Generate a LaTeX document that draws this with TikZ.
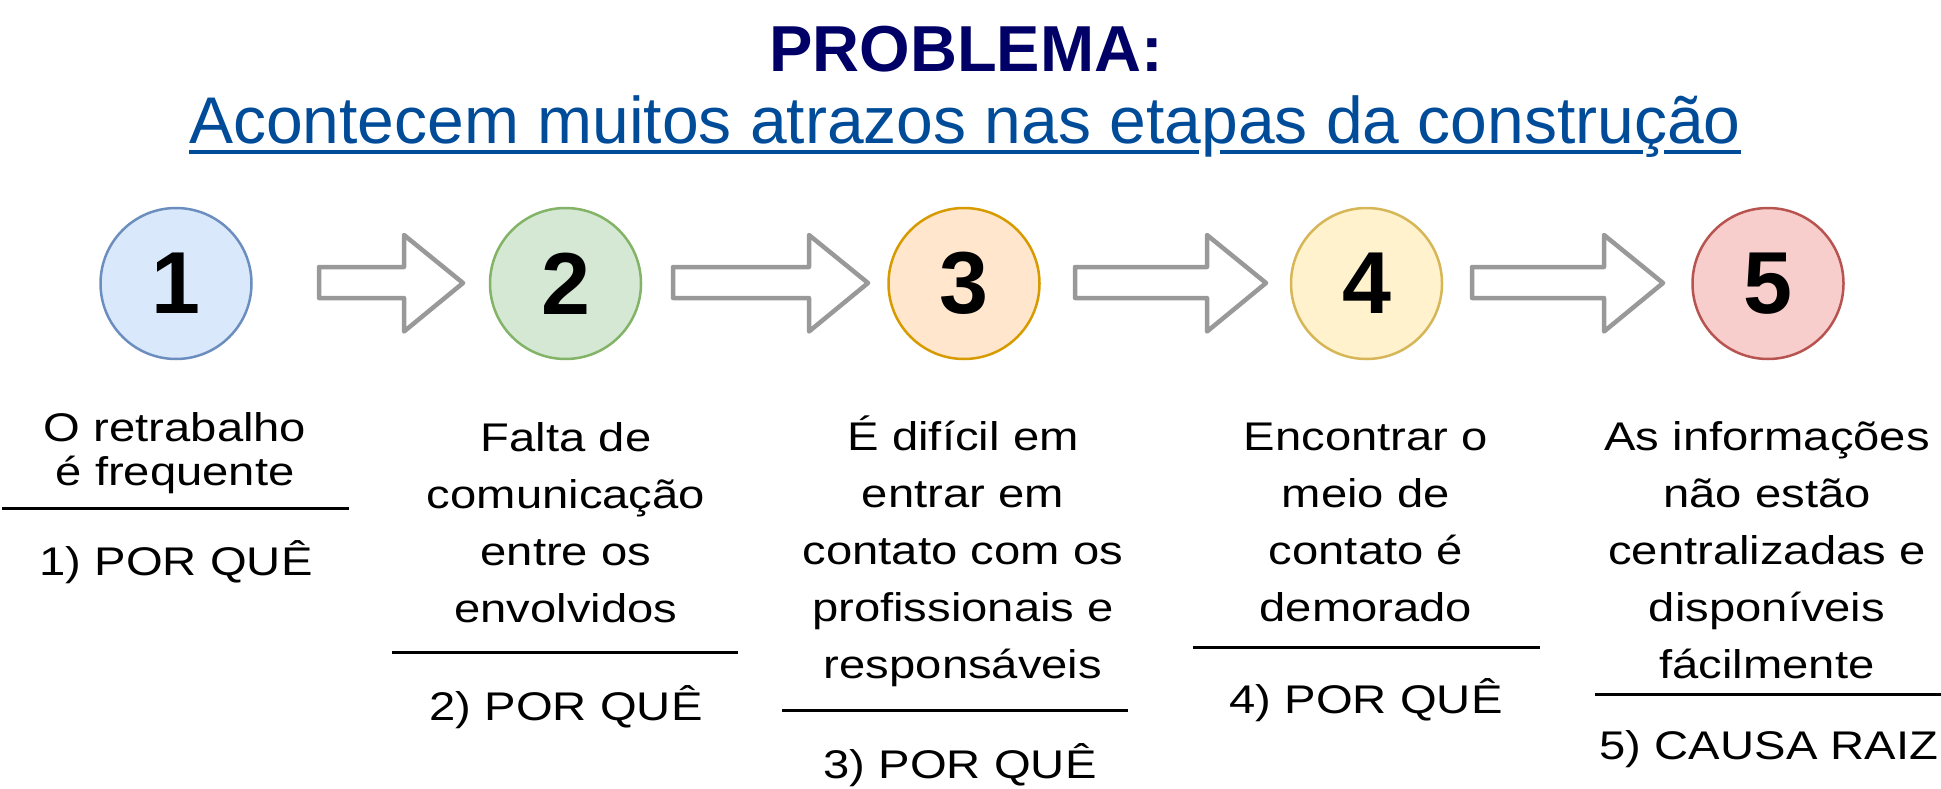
\documentclass[tikz,border=0pt]{standalone}
\usepackage{fontspec}
\setmainfont{Liberation Sans}
\newfontfamily\bodyfont[FakeStretch=1.18]{Liberation Sans}
\usetikzlibrary{calc}
\definecolor{titlenavy}{HTML}{000066}
\definecolor{subblue}{HTML}{004C99}
\definecolor{arrowgray}{HTML}{999999}
\definecolor{f1}{HTML}{DAE8FC}\definecolor{d1}{HTML}{6C8EBF}
\definecolor{f2}{HTML}{D5E8D4}\definecolor{d2}{HTML}{82B366}
\definecolor{f3}{HTML}{FFE6CC}\definecolor{d3}{HTML}{D79B00}
\definecolor{f4}{HTML}{FFF2CC}\definecolor{d4}{HTML}{D6B656}
\definecolor{f5}{HTML}{F8CECC}\definecolor{d5}{HTML}{B85450}
\newcommand\fatarrow[2]{%
  \pgfmathsetmacro\arrbase{#2-59}%
  \draw[arrowbody] (#1,267) -- (\arrbase,267) -- (\arrbase,235) -- (#2,283) -- (\arrbase,331.5) -- (\arrbase,298) -- (#1,298) -- cycle;}
\begin{document}
\begin{tikzpicture}[x=1pt,y=-1pt,
  circ/.style={circle, minimum size=151pt, inner sep=0pt, line width=2.5pt,
    font=\fontsize{88}{88}\selectfont\bfseries},
  sepline/.style={line width=3pt, black},
  uline/.style={subblue, line width=4pt},
  arrowbody/.style={draw=arrowgray, fill=white, line width=4.5pt, line join=round},
  bodytext/.style={inner sep=0pt, text width=420pt, align=center, anchor=base,
    font=\bodyfont\fontsize{40}{57}\selectfont},
  bodytextA/.style={bodytext, font=\bodyfont\fontsize{40}{44}\selectfont}]
\fill[white] (0,0) rectangle (1941,789);
\useasboundingbox (0,0) rectangle (1941,789);

% titles
\node[anchor=base, inner sep=0pt, text=titlenavy, font=\fontsize{65}{65}\selectfont\bfseries] (title) at (966,72) {PROBLEMA:};
\coordinate (u0) at (189,152.5); \coordinate (u1) at (1199,152.5);
\coordinate (u2) at (1220,152.5); \coordinate (u3) at (1643,152.5);
\coordinate (u4) at (1664,152.5); \coordinate (u5) at (1741,152.5);
\draw[uline] (u0) -- (u1) (u2) -- (u3) (u4) -- (u5);
\node[anchor=base, inner sep=0pt, text=subblue, font=\fontsize{66}{66}\selectfont] (sub) at (965,143) {Acontecem muitos atrazos nas etapas da construção};

% circles
\node[circ, fill=f1, draw=d1] (c1) at (176,283.5) {1};
\node[circ, fill=f2, draw=d2] (c2) at (565.5,283.5) {2};
\node[circ, fill=f3, draw=d3] (c3) at (964,283.5) {3};
\node[circ, fill=f4, draw=d4] (c4) at (1366.5,283.5) {4};
\node[circ, fill=f5, draw=d5] (c5) at (1768,283.5) {5};

% arrows
\fatarrow{319}{463}
\fatarrow{673}{868}
\fatarrow{1075}{1266}
\fatarrow{1472}{1663}

% column 1
\node[bodytextA] (t1) at (175,441) {O retrabalho\\é frequente};
\coordinate (s1a) at (2,508); \coordinate (s1b) at (349,508);
\draw[sepline] (s1a) -- (s1b);
\node[bodytext] (q1) at (176,575) {1) POR QUÊ};

% column 2
\node[bodytext] (t2) at (566,451) {Falta de\\comunicação\\entre os\\envolvidos};
\coordinate (s2a) at (392,652); \coordinate (s2b) at (738,652);
\draw[sepline] (s2a) -- (s2b);
\node[bodytext] (q2) at (566,720) {2) POR QUÊ};

% column 3
\node[bodytext] (t3) at (963,450) {É difícil em\\entrar em\\contato com os\\profissionais e\\responsáveis};
\coordinate (s3a) at (782,710); \coordinate (s3b) at (1128,710);
\draw[sepline] (s3a) -- (s3b);
\node[bodytext] (q3) at (960,778) {3) POR QUÊ};

% column 4
\node[bodytext] (t4) at (1366,450) {Encontrar o\\meio de\\contato é\\demorado};
\coordinate (s4a) at (1193,647); \coordinate (s4b) at (1540,647);
\draw[sepline] (s4a) -- (s4b);
\node[bodytext] (q4) at (1366,713) {4) POR QUÊ};

% column 5
\node[bodytext] (t5) at (1767,450) {As informações\\não estão\\centralizadas e\\disponíveis\\fácilmente};
\coordinate (s5a) at (1595,694); \coordinate (s5b) at (1941,694);
\draw[sepline] (s5a) -- (s5b);
\node[bodytext] (q5) at (1769,759) {5) CAUSA RAIZ};
\end{tikzpicture}
\end{document}
